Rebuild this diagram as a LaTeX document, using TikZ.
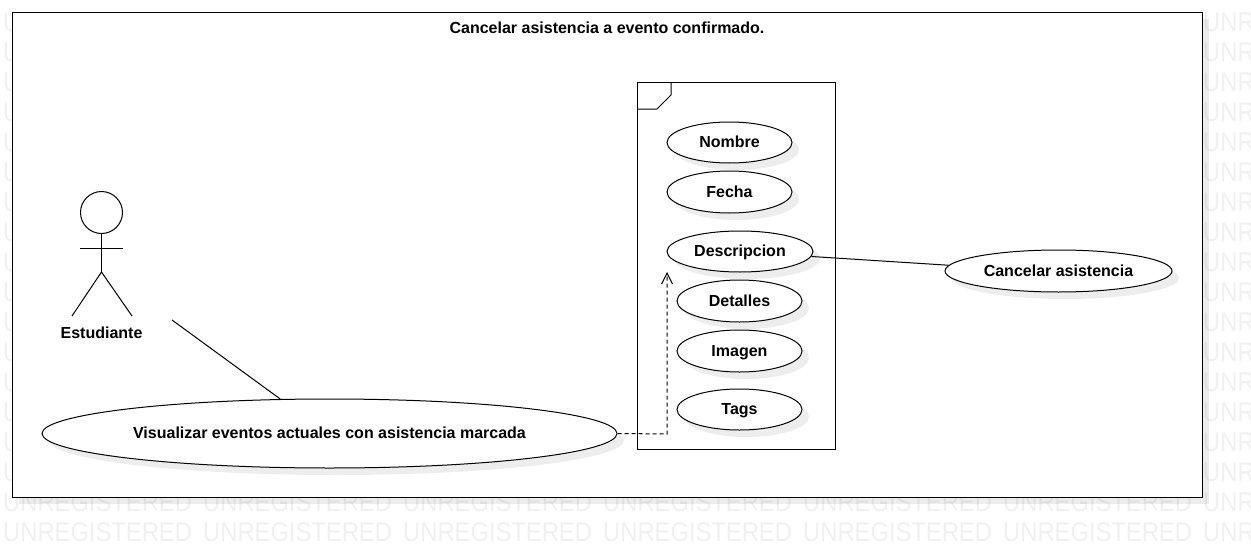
\documentclass[tikz,border=0pt]{standalone}
\usepackage{fontspec}
\setmainfont{Liberation Sans}
\newfontfamily\stampfont[FakeStretch=0.88]{Liberation Sans}
\usetikzlibrary{shapes.geometric,shadows,arrows.meta}
\definecolor{watermark}{rgb}{0.94, 0.94, 0.94}
\tikzset{
  softshadow/.style={drop shadow={shadow xshift=7pt,shadow yshift=-7pt,fill=black,opacity=0.07}},
  usecase/.style={ellipse,draw=black,fill=white,line width=1pt,inner sep=0pt,softshadow,text height=11.5pt,text depth=1.5pt,font=\fontsize{16}{18}\bfseries\selectfont},
  caption/.style={inner sep=0pt,text height=11.5pt,text depth=1.5pt,font=\fontsize{16}{18}\bfseries\selectfont},
  stamp/.style={anchor=base west,inner sep=0pt,text=watermark,font=\fontsize{27}{30}\stampfont},
  link/.style={draw=black,line width=1pt}
}
\begin{document}
\begin{tikzpicture}[x=1pt,y=-1pt]
        \useasboundingbox (0,0) rectangle (1251,546);
        % watermark, only what stays visible round the frame
        \foreach \row in {0,...,15} {
            \node[stamp] (stampL-\row) at (3,{31+30*\row}) {U};
            \node[stamp] (stampR-\row) at (1203,{31+30*\row}) {UNR};
        }
        \foreach \row in {16,17} {
            \foreach \col in {0,...,5}
                \node[stamp] (stamp-\row-\col) at ({3+200*\col},{31+30*\row}) {UNREGISTERED};
            \node[stamp] (stampR-\row) at (1203,{31+30*\row}) {UNR};
        }
        \node[draw=black,fill=white,line width=1pt,inner sep=0pt,minimum width=1190pt,minimum height=485pt,softshadow] (frame) at (607,254.5) {};
        \node[caption] (title) at (607,28) {Cancelar asistencia a evento confirmado.};
        % fragment box
        \node[draw=black,fill=white,line width=1pt,inner sep=0pt,minimum width=198pt,minimum height=367pt] (fragment) at (736,265.5) {};
        \coordinate (tabA) at (637,109);
        \coordinate (tabB) at (657,109);
        \coordinate (tabC) at (671,95);
        \coordinate (tabD) at (671,82);
        \draw[link] (tabA) -- (tabB) -- (tabC) -- (tabD);
        % attributes
        \node[usecase,minimum width=125pt,minimum height=41pt] (nombre) at (729.5,142.5) {Nombre};
        \node[usecase,minimum width=125pt,minimum height=42pt] (fecha) at (729.5,192) {Fecha};
        \node[usecase,minimum width=146pt,minimum height=41pt] (descripcion) at (740,251.5) {Descripcion};
        \node[usecase,minimum width=125pt,minimum height=42pt] (detalles) at (739.5,301) {Detalles};
        \node[usecase,minimum width=125pt,minimum height=42pt] (imagen) at (739.5,351) {Imagen};
        \node[usecase,minimum width=125pt,minimum height=41pt] (tags) at (739.5,409.5) {Tags};
        \node[usecase,minimum width=227pt,minimum height=42pt] (cancelar) at (1058.5,271) {Cancelar asistencia};
        \node[usecase,minimum width=575pt,minimum height=69pt] (visualizar) at (329.5,433.5) {Visualizar eventos actuales con asistencia marcada};
        % actor
        \node[circle,draw=black,line width=1pt,inner sep=0pt,minimum size=42pt] (head) at (101.5,212.5) {};
        \coordinate (hip) at (101.5,272);
        \coordinate (armL) at (80,248);
        \coordinate (armR) at (123,248);
        \coordinate (footL) at (72,316);
        \coordinate (footR) at (132,316);
        \draw[link] (head.south) -- (hip);
        \draw[link] (armL) -- (armR);
        \draw[link] (footL) -- (hip) -- (footR);
        \node[caption] (estudiante) at (101.5,333) {Estudiante};
        % connectors
        \coordinate (actorEnd) at (172,320);
        \coordinate (dashCorner) at (667,434);
        \coordinate (dashEnd) at (667,272);
        \draw[link] (actorEnd) -- (visualizar.145);
        \draw[link] (descripcion.-4) -- (cancelar.177);
        \draw[link,dash pattern=on 4pt off 3pt,-{Straight Barb[length=11pt,width=11pt]}] (visualizar.east) -- (dashCorner) -- (dashEnd);
    \end{tikzpicture}
\end{document}
